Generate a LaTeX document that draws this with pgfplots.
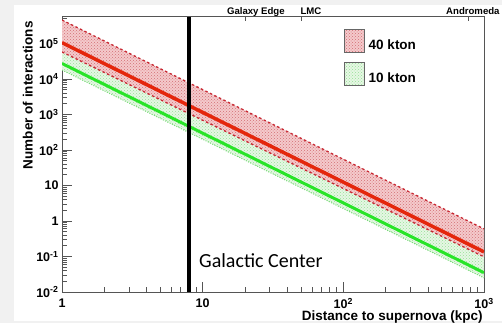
\documentclass[border=0pt]{standalone}
\usepackage{pgfplots}
\pgfplotsset{compat=1.18}
\usepackage{fontspec}
\setmainfont{Liberation Sans}
\newfontfamily\carlito{Carlito}
\usetikzlibrary{patterns}
\definecolor{bggray}{RGB}{241,241,241}
\definecolor{axiscol}{RGB}{85,85,85}
\definecolor{redline}{RGB}{228,38,12}
\definecolor{reddash}{RGB}{200,40,50}
\definecolor{redfill}{RGB}{244,202,204}
\definecolor{reddots}{RGB}{210,110,115}
\definecolor{greenline}{RGB}{40,228,40}
\definecolor{greenfill}{RGB}{230,247,228}
\definecolor{greendots}{RGB}{150,225,150}
\definecolor{greendotline}{RGB}{120,220,120}
\begin{document}
\begin{tikzpicture}[x=1pt,y=1pt]
\useasboundingbox (0,0) rectangle (502,323);
\fill[bggray] (0,0) rectangle (502,323);
\fill[white] (14,2) rectangle (502,318);
\begin{axis}[at={(62pt,31pt)}, anchor=south west, scale only axis,
  width=422pt, height=275pt,
  xmode=log, ymode=log,
  xmin=1, xmax=1000, ymin=0.01, ymax=5.6e5,
  axis line style={axiscol, line width=1pt},
  tick align=inside, xtick pos=bottom, ytick pos=left,
  major tick length=10pt, minor tick length=5.5pt,
  every tick/.style={axiscol, line width=0.8pt},
  xtick={1,10,100,1000},
  xticklabels={1,10,10\textsuperscript{2},10\textsuperscript{3}},
  minor xtick={2,3,4,5,6,7,8,9,20,30,40,50,60,70,80,90,200,300,400,500,600,700,800,900},
  ytick={0.01,0.1,1,10,100,1000,10000,100000},
  yticklabels={10\textsuperscript{-2},10\textsuperscript{-1},1,10,10\textsuperscript{2},10\textsuperscript{3},10\textsuperscript{4},10\textsuperscript{5}},
  minor ytick={0.02,0.03,0.04,0.05,0.06,0.07,0.08,0.09,0.2,0.3,0.4,0.5,0.6,0.7,0.8,0.9,2,3,4,5,6,7,8,9,20,30,40,50,60,70,80,90,200,300,400,500,600,700,800,900,2000,3000,4000,5000,6000,7000,8000,9000,20000,30000,40000,50000,60000,70000,80000,90000,200000,300000,400000,500000},
  ticklabel style={font=\bfseries\fontsize{12.5}{13}\selectfont},
  xticklabel style={yshift=-3pt},
  xlabel={Distance to supernova (kpc)},
  ylabel={Number of interactions},
  xlabel style={at={(axis description cs:1.005,-0.092)}, anchor=east, font=\bfseries\fontsize{13.5}{14}\selectfont},
  ylabel style={at={(axis description cs:-0.081,0.997)}, anchor=east, font=\bfseries\fontsize{13.5}{14}\selectfont},
  legend style={at={(rel axis cs:0.661,0.964)}, anchor=north west, draw=none, fill=none,
    font=\bfseries\fontsize{13.5}{14}\selectfont, row sep=9pt,
    /tikz/every odd column/.style={column sep=2pt}},
  legend cell align=left,
  clip=true,
]
% 10 kton band
\addplot[draw=none, fill=greenfill, postaction={pattern=crosshatch dots, pattern color=greendots}, forget plot]
  coordinates {(1,1.05e5) (1000,0.135) (1000,0.025) (1,1.8e4)} -- cycle;
% 40 kton band
\addplot[draw=none, fill=redfill, postaction={pattern=crosshatch dots, pattern color=reddots}, forget plot]
  coordinates {(1,4.6e5) (1000,0.6) (1000,0.098) (1,5.8e4)} -- cycle;
% band edges
\addplot[reddash, line width=1.3pt, dash pattern=on 2.5pt off 2.5pt, forget plot] coordinates {(1,4.6e5) (1000,0.6)};
\addplot[reddash, line width=1.3pt, dash pattern=on 2.5pt off 2.5pt, forget plot] coordinates {(1,5.8e4) (1000,0.098)};
\addplot[greendotline, line width=1pt, dash pattern=on 1pt off 1.5pt, forget plot] coordinates {(1,1.8e4) (1000,0.025)};
% central lines
\addplot[greenline, line width=3pt, forget plot] coordinates {(1,2.75e4) (1000,0.035)};
\addplot[redline, line width=3.5pt, forget plot] coordinates {(1,1.06e5) (1000,0.135)};
% Galactic centre
\addplot[black, line width=3.4pt, forget plot] coordinates {(8,0.01) (8,5.6e5)};
\node[anchor=base west, font=\carlito\fontsize{20}{22}\selectfont, inner sep=0pt] at (axis cs:9.42,0.0506) {Galactic Center};
% legend
\addlegendimage{legend image code/.code={\draw[draw=gray!80!black, line width=0.6pt, fill=redfill, postaction={pattern=crosshatch dots, pattern color=reddots}] (0pt,-6.5pt) rectangle (20pt,16pt);}}
\addlegendentry{40 kton}
\addlegendimage{legend image code/.code={\draw[draw=gray!80!black, line width=0.6pt, fill=greenfill, postaction={pattern=crosshatch dots, pattern color=greendots}] (0pt,-6.5pt) rectangle (20pt,16pt);}}
\addlegendentry{10 kton}
\end{axis}
% top axis markers
\begin{axis}[at={(62pt,31pt)}, anchor=south west, scale only axis,
  width=422pt, height=275pt,
  xmode=log, ymode=log,
  xmin=1, xmax=1000, ymin=0.01, ymax=5.6e5,
  axis x line*=top, axis y line=none,
  axis line style={draw=none},
  tick align=inside, major tick length=4pt,
  every tick/.style={axiscol, line width=0.8pt},
  xtick={20,50,780}, xticklabels={}, minor xtick={}, ytick=\empty,
  clip=false,
]
\node[anchor=base, font=\bfseries\fontsize{9.6}{10}\selectfont, inner sep=0pt, yshift=2pt] at (axis cs:23.9,5.6e5) {Galaxy Edge};
\node[anchor=base, font=\bfseries\fontsize{9.6}{10}\selectfont, inner sep=0pt, yshift=2pt] at (axis cs:58.9,5.6e5) {LMC};
\node[anchor=base west, font=\bfseries\fontsize{9.6}{10}\selectfont, inner sep=0pt, yshift=2pt] at (axis cs:537,5.6e5) {Andromeda};
\end{axis}
\end{tikzpicture}
\end{document}
